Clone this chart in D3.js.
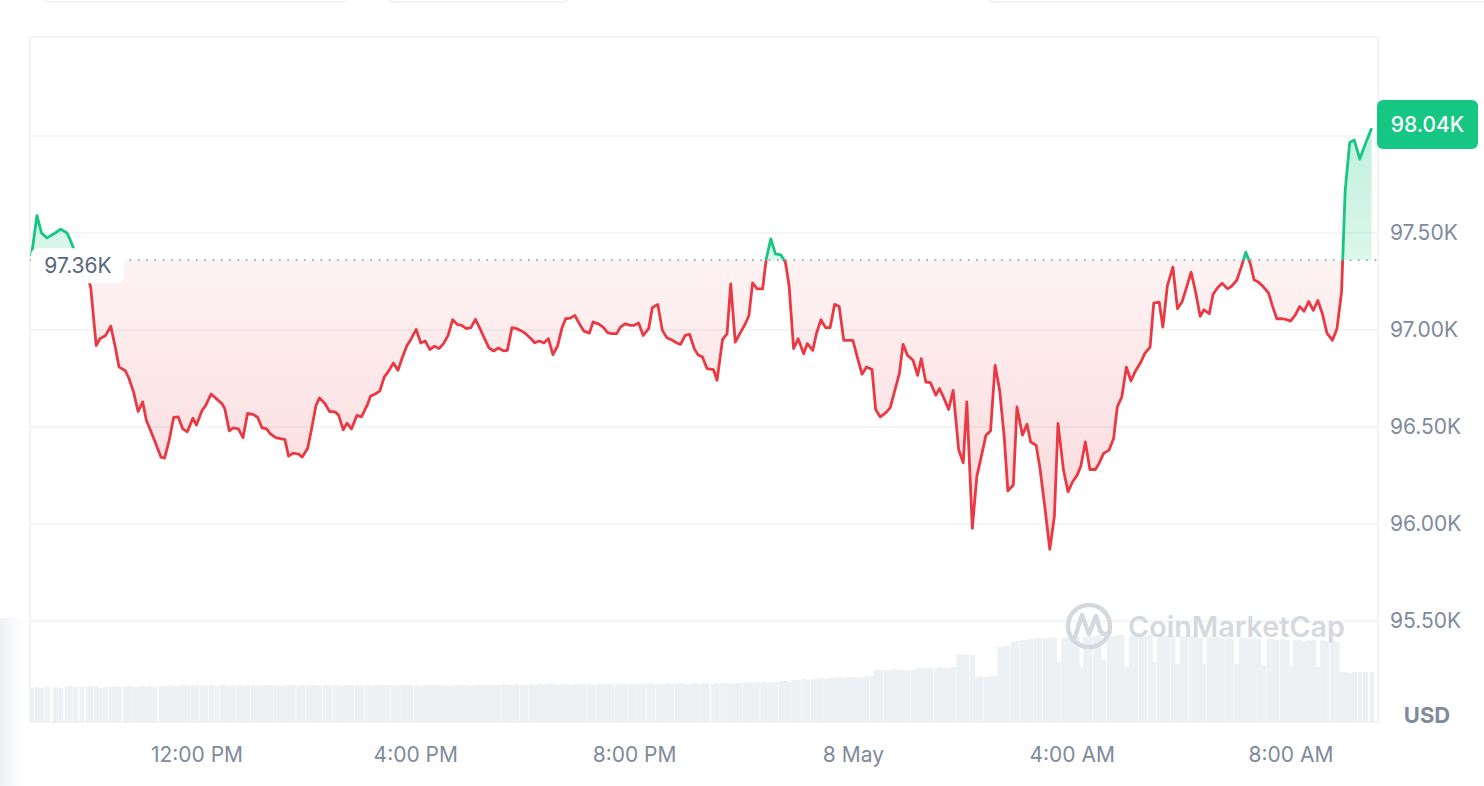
<!DOCTYPE html>
<html><head><meta charset="utf-8">
<script src="https://cdn.jsdelivr.net/npm/d3@7"></script>
<style>
html,body{margin:0;padding:0;background:#fff;}
svg{display:block;font-family:Inter,"Noto Sans",sans-serif;}
</style></head><body>
<svg id="chart" width="1484" height="786"></svg>
<script>
// minutes after 00:00 on 7 May 2025
const times = [
539,545,550,556,565,571,578,581,587,594,
601,604,610,614,620,626,631,635,642,646,
651,656,661,665,669,674,681,685,690,695,
700,705,710,716,720,726,730,736,742,748,
751,756,760,766,771,776,782,787,792,797,
801,807,812,817,821,826,832,836,842,846,
851,855,861,866,872,876,881,885,890,896,
901,907,911,916,921,926,930,936,941,946,
951,955,961,966,971,976,981,986,991,996,
1001,1006,1011,1016,1021,1026,1031,1036,1041,1046,
1051,1057,1061,1066,1071,1077,1081,1087,1091,1096,
1101,1106,1111,1116,1121,1125,1130,1135,1140,1145,
1151,1155,1161,1166,1171,1175,1181,1185,1190,1196,
1200,1205,1210,1216,1220,1226,1231,1236,1241,1247,
1251,1256,1261,1266,1270,1275,1280,1287,1291,1297,
1302,1306,1311,1316,1322,1326,1330,1335,1341,1345,
1350,1355,1361,1366,1370,1375,1380,1386,1390,1396,
1400,1405,1410,1415,1420,1425,1430,1435,1440,1445,
1450,1455,1461,1465,1470,1476,1481,1486,1491,1495,
1500,1506,1511,1515,1520,1525,1531,1535,1540,1545,
1550,1556,1561,1565,1571,1576,1580,1586,1591,1596,
1601,1606,1610,1616,1620,1626,1631,1635,1641,1645,
1651,1656,1661,1665,1671,1676,1681,1686,1690,1695,
1700,1706,1710,1715,1721,1726,1730,1735,1740,1745,
1750,1756,1760,1766,1770,1776,1780,1785,1791,1796,
1801,1805,1811,1816,1821,1825,1831,1835,1840,1845,
1851,1855,1861,1866,1871,1876,1880,1885,1890,1896,
1900,1905,1911,1916,1920,1925,1930,1935,1940,1945,
1950,1955,1960,1966,1971,1976,1980,1985,1990,1996,
2002,2009];

// price in thousands of USD
const prices = [
97.38,97.59,97.50,97.475,97.50,97.52,97.50,97.47,97.40,97.33,
97.27,97.22,96.92,96.955,96.97,97.02,96.91,96.81,96.79,96.75,
96.68,96.58,96.63,96.535,96.49,96.43,96.345,96.34,96.43,96.55,
96.552,96.49,96.475,96.545,96.51,96.585,96.61,96.67,96.645,96.62,
96.595,96.48,96.495,96.49,96.445,96.57,96.565,96.55,96.495,96.49,
96.465,96.445,96.44,96.435,96.35,96.365,96.36,96.345,96.39,96.485,
96.61,96.65,96.62,96.58,96.578,96.56,96.485,96.52,96.49,96.56,
96.552,96.61,96.66,96.67,96.685,96.758,96.783,96.83,96.792,96.861,
96.921,96.95,97.003,96.933,96.943,96.899,96.917,96.904,96.93,96.972,
97.053,97.029,97.024,97.007,97.012,97.055,97.007,96.955,96.907,96.892,
96.907,96.892,96.895,97.012,97.007,96.994,96.981,96.955,96.934,96.943,
96.933,96.955,96.873,96.916,97.012,97.058,97.061,97.075,97.032,96.994,
96.984,97.041,97.032,97.015,96.986,96.981,96.981,97.015,97.032,97.024,
97.024,97.036,96.972,97.007,97.115,97.132,96.998,96.96,96.95,96.933,
96.926,96.972,96.977,96.904,96.873,96.861,96.801,96.796,96.741,96.95,
96.981,97.238,96.938,96.981,97.032,97.075,97.243,97.212,97.212,97.367,
97.47,97.392,97.387,97.349,97.229,96.904,96.955,96.878,96.93,96.895,
96.981,97.053,97.012,97.012,97.132,97.121,96.947,96.947,96.947,96.858,
96.772,96.809,96.796,96.59,96.552,96.573,96.60,96.689,96.775,96.926,
96.869,96.844,96.766,96.852,96.732,96.729,96.664,96.698,96.647,96.59,
96.689,96.384,96.315,96.629,95.978,96.247,96.329,96.458,96.48,96.818,
96.689,96.449,96.171,96.201,96.603,96.458,96.514,96.423,96.406,96.295,
96.07,95.87,96.038,96.518,96.278,96.166,96.218,96.252,96.298,96.423,
96.281,96.281,96.312,96.364,96.381,96.441,96.603,96.655,96.809,96.737,
96.789,96.835,96.878,96.912,97.138,97.144,97.015,97.229,97.324,97.11,
97.144,97.204,97.298,97.195,97.07,97.104,97.084,97.183,97.218,97.241,
97.212,97.224,97.255,97.324,97.401,97.341,97.259,97.246,97.224,97.19,
97.127,97.058,97.058,97.053,97.046,97.075,97.121,97.097,97.147,97.101,
97.152,97.084,96.984,96.947,97.007,97.195,97.72,97.967,97.979,97.881,
97.958,98.04];

// relative traded volume per interval
const volumes = [
34,35,34,35,35,34,35,36,35,35,
35,36,35,34,35,35,36,35,35,36,
35,35,36,35,36,35,36,36,37,36,
36,37,36,37,37,36,37,37,36,37,
37,36,37,37,36,37,37,37,36,37,
37,37,36,37,37,37,36,37,37,37,
37,36,37,37,37,37,36,37,37,37,
37,37,36,37,37,37,37,36,37,37,
37,37,37,36,37,37,37,37,37,36,
37,37,37,37,36,37,37,37,37,37,
37,38,37,37,38,37,37,38,37,38,
37,38,38,37,38,38,37,38,38,38,
38,37,38,38,38,38,37,38,38,38,
38,38,38,39,38,38,38,39,38,38,
39,38,38,39,38,39,39,38,39,39,
39,38,39,39,40,39,39,40,40,39,
40,40,41,41,40,42,42,43,42,43,
43,44,43,44,44,45,44,45,45,44,
45,46,46,52,52,52,52,53,52,52,
52,52,54,54,54,54,54,55,54,54,
55,68,67,68,67,45,46,45,46,46,
75,76,76,80,81,82,82,83,84,84,
84,85,84,60,84,85,86,85,55,85,
86,86,87,62,86,86,87,87,55,86,
86,87,86,87,60,87,86,87,86,58,
86,85,86,85,84,58,85,84,85,84,
84,83,58,84,84,83,84,83,57,83,
83,82,83,82,56,82,82,81,82,82,
55,82,81,81,80,50,50,49,50,50,
50,50];

const openPrice = 97.36;
const lastPrice = 98.04;
const xTickTimes = [720, 960, 1200, 1440, 1680, 1920];
const gridValues = [95.5, 96, 96.5, 97, 97.5, 98];
const yTickValues = [95.5, 96, 96.5, 97, 97.5];
const domainStart = 537.4, domainEnd = 2016;

const toDate = m => new Date(2025, 4, 7, 0, 0, 0, Math.round(m * 60000));

const L = 30, R = 1378, T = 37, B = 722;
const RED = "#ea3943", GREEN = "#16c784", GREY = "#808a9d", GRID = "#eff2f5";
const FS = 21;

const svg = d3.select("#chart");
const defs = svg.append("defs");

const x = d3.scaleTime().domain([toDate(domainStart), toDate(domainEnd)]).range([L, R]);
const y = d3.scaleLinear().domain([95.5, 98]).range([621, 136]);
const yv = d3.scaleLinear().domain([0, 100]).range([B, 622]);

const data = times.map((t, i) => ({ t: toDate(t), p: prices[i], v: volumes[i] }));
const yBase = y(openPrice);

// page decorations
const lg = defs.append("linearGradient").attr("id", "leftShade").attr("x1", 0).attr("x2", 1);
lg.append("stop").attr("offset", 0).attr("stop-color", "#eef0f3");
lg.append("stop").attr("offset", 1).attr("stop-color", "#ffffff");
svg.append("rect").attr("x", 0).attr("y", 618).attr("width", 22).attr("height", 168).attr("fill", "url(#leftShade)");
[[40, 310], [385, 187], [985, 520]].forEach(([bx, bw]) => {
  svg.append("rect").attr("x", bx).attr("y", -40).attr("width", bw).attr("height", 42)
    .attr("rx", 10).attr("fill", "#fff").attr("stroke", "#e8eaee");
});

// frame
svg.append("rect").attr("x", L).attr("y", T).attr("width", R - L).attr("height", B - T)
  .attr("fill", "#fff").attr("stroke", "#edf0f3").attr("stroke-width", 1.5);

// gridlines
svg.append("g").selectAll("line").data(gridValues).join("line")
  .attr("x1", L).attr("x2", R).attr("y1", d => y(d)).attr("y2", d => y(d))
  .attr("stroke", GRID).attr("stroke-width", 1.5);

// volume bars
const bw = x(toDate(5)) - x(toDate(0));
svg.append("g").selectAll("rect").data(data).join("rect")
  .attr("x", d => x(d.t) - bw / 2).attr("width", bw + 0.4)
  .attr("y", d => yv(d.v)).attr("height", d => B - yv(d.v))
  .attr("fill", "#eef1f4");

// watermark
const wm = svg.append("g").attr("fill", "none").attr("stroke", "#d5d9df");
wm.append("circle").attr("cx", 1089).attr("cy", 626).attr("r", 21).attr("stroke-width", 4.5);
wm.append("path").attr("d", "M1075,637 L1082,615 L1089,634 L1096,616 L1100,630 Q1103,637 1110,632")
  .attr("stroke-width", 4.5).attr("stroke-linejoin", "round").attr("stroke-linecap", "round");
svg.append("text").attr("x", 1128).attr("y", 637).attr("font-size", 28).attr("font-weight", 600)
  .attr("fill", "#d5d9df").attr("textLength", 217).attr("lengthAdjust", "spacingAndGlyphs").text("CoinMarketCap");

// gradients
const gG = defs.append("linearGradient").attr("id", "gFill").attr("gradientUnits", "userSpaceOnUse")
  .attr("x1", 0).attr("x2", 0).attr("y1", y(lastPrice)).attr("y2", yBase);
gG.append("stop").attr("offset", 0).attr("stop-color", GREEN).attr("stop-opacity", 0.27);
gG.append("stop").attr("offset", 1).attr("stop-color", GREEN).attr("stop-opacity", 0.15);
const rG = defs.append("linearGradient").attr("id", "rFill").attr("gradientUnits", "userSpaceOnUse")
  .attr("x1", 0).attr("x2", 0).attr("y1", yBase).attr("y2", y(95.87));
rG.append("stop").attr("offset", 0).attr("stop-color", RED).attr("stop-opacity", 0.06);
rG.append("stop").attr("offset", 1).attr("stop-color", RED).attr("stop-opacity", 0.2);

defs.append("clipPath").attr("id", "above").append("rect")
  .attr("x", 0).attr("y", 0).attr("width", 1484).attr("height", yBase);
defs.append("clipPath").attr("id", "below").append("rect")
  .attr("x", 0).attr("y", yBase).attr("width", 1484).attr("height", 786 - yBase);

const area = d3.area().x(d => x(d.t)).y0(yBase).y1(d => y(d.p));
const line = d3.line().x(d => x(d.t)).y(d => y(d.p));

svg.append("path").datum(data).attr("d", area).attr("fill", "url(#gFill)").attr("clip-path", "url(#above)");
svg.append("path").datum(data).attr("d", area).attr("fill", "url(#rFill)").attr("clip-path", "url(#below)");

// baseline dotted
svg.append("line").attr("x1", L).attr("x2", R).attr("y1", yBase).attr("y2", yBase)
  .attr("stroke", "#9aa1ae").attr("stroke-width", 1.6).attr("stroke-dasharray", "1.6 6.7");

svg.append("path").datum(data).attr("d", line).attr("fill", "none").attr("stroke", GREEN)
  .attr("stroke-width", 2.8).attr("stroke-linejoin", "round").attr("clip-path", "url(#above)");
svg.append("path").datum(data).attr("d", line).attr("fill", "none").attr("stroke", RED)
  .attr("stroke-width", 2.8).attr("stroke-linejoin", "round").attr("clip-path", "url(#below)");

// open price label
svg.append("rect").attr("x", 31).attr("y", yBase - 12).attr("width", 93).attr("height", 35)
  .attr("rx", 7).attr("fill", "#fff");
svg.append("text").attr("x", 78).attr("y", yBase + 5).attr("dy", "0.35em").attr("text-anchor", "middle")
  .attr("font-size", FS).attr("fill", "#58667e").text(openPrice.toFixed(2) + "K");

// axes
const xAxis = d3.axisBottom(x).tickValues(xTickTimes.map(toDate)).tickSize(0).tickPadding(25)
  .tickFormat(d => (d.getHours() === 0 ? d3.timeFormat("%-d %B")(d) : d3.timeFormat("%-I:%M %p")(d)));
const gx = svg.append("g").attr("transform", `translate(0,${B})`).call(xAxis);
gx.select(".domain").remove();
gx.selectAll("text").attr("font-size", FS).attr("fill", GREY).attr("font-family", "Inter,'Noto Sans',sans-serif");

const yAxis = d3.axisRight(y).tickValues(yTickValues).tickSize(0).tickPadding(12)
  .tickFormat(d => d.toFixed(2) + "K");
const gy = svg.append("g").attr("transform", `translate(${R},0)`).call(yAxis);
gy.select(".domain").remove();
gy.selectAll("text").attr("font-size", FS).attr("fill", GREY).attr("font-family", "Inter,'Noto Sans',sans-serif");

svg.append("text").attr("x", 1427).attr("y", 715).attr("dy", "0.35em").attr("text-anchor", "middle")
  .attr("font-size", 22).attr("font-weight", 700).attr("fill", GREY).text("USD");

// current price label
svg.append("rect").attr("x", 1377).attr("y", 100).attr("width", 101).attr("height", 49)
  .attr("rx", 6).attr("fill", GREEN);
svg.append("text").attr("x", 1427.5).attr("y", 125).attr("dy", "0.35em").attr("text-anchor", "middle")
  .attr("font-size", FS).attr("font-weight", 500).attr("fill", "#fff").text(lastPrice.toFixed(2) + "K");
</script>
</body></html>
